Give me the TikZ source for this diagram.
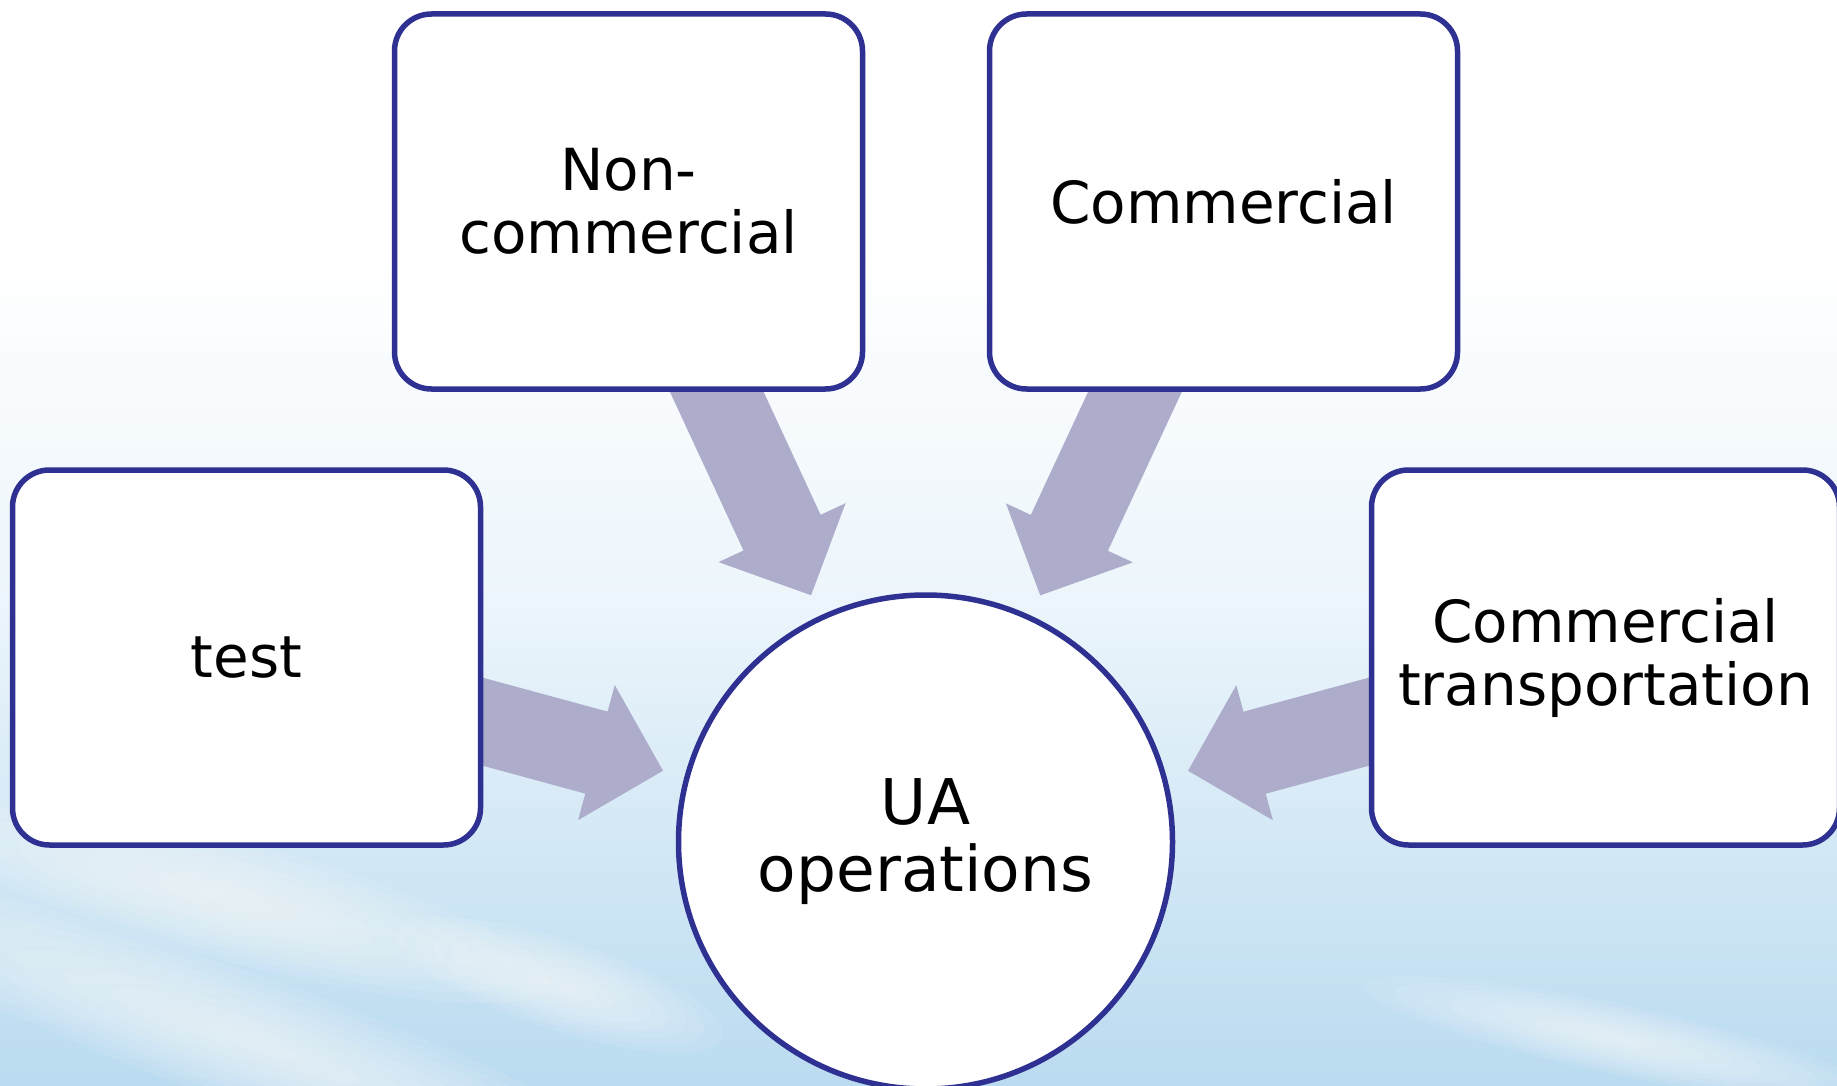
\documentclass[tikz,border=0pt]{standalone}
\usepackage{fontspec}
\setmainfont{DejaVu Sans}
\usetikzlibrary{calc}
\definecolor{navy}{RGB}{46,49,146}
\definecolor{arrowc}{RGB}{173,173,203}
\definecolor{bgA}{RGB}{236,245,251}
\definecolor{bgB}{RGB}{186,219,240}
\pgfdeclarelayer{background}
\pgfsetlayers{background,main}
\tikzset{
  box/.style={draw=navy, line width=5.5pt, fill=white, rounded corners=37pt,
    minimum width=468pt, minimum height=375pt, align=center, inner sep=0pt,
    font=\fontsize{58}{63}\selectfont},
  hub/.style={circle, draw=navy, line width=5.5pt, fill=white, minimum size=494pt,
    align=center, inner sep=0pt, font=\fontsize{63}{67}\selectfont},
  blockarrow/.style={fill=arrowc},
  cloudlayer/.style={white, opacity=0.09}
}
\newcommand{\myarrow}[2]{%
  \path ($(#1.center)!272pt!(#2.center)$) coordinate (tip)
        ($(#1.center)!341pt!(#2.center)$) coordinate (hb);
  \fill[blockarrow] (tip) -- ($(hb)!70pt!90:(#2.center)$)
    -- ($(hb)!42.5pt!90:(#2.center)$) -- ($(#2.center)!42.5pt!-90:(hb)$)
    -- ($(#2.center)!42.5pt!90:(hb)$) -- ($(hb)!42.5pt!-90:(#2.center)$)
    -- ($(hb)!70pt!-90:(#2.center)$) -- cycle;}
% soft cloud streak: centre x, centre y, x radius, y radius, angle
\newcommand{\cloudstreak}[5]{%
  \foreach \k in {1,...,9}{%
    \fill[cloudlayer, rotate around={#5:(#1,#2)}] (#1,#2)
      ellipse [x radius={#3*\k/9}, y radius={#4*\k/9}];}}
\begin{document}
\begin{tikzpicture}[x=1pt,y=-1pt]
\useasboundingbox (0,0) rectangle (1837,1086);
\clip (0,0) rectangle (1837,1086);
% hub and boxes
\node[hub] (c) at (925.5,842) {UA\\operations};
\node[box] (nc) at (628.5,201.5) {Non-\\commercial};
\node[box] (cm) at (1223.5,201.5) {Commercial};
\node[box] (ts) at (246.5,657.5) {test};
\node[box] (ct) at (1605.5,657.5) {Commercial\\transportation};
\begin{pgfonlayer}{background}
% sky
\fill[white] (0,0) rectangle (1837,251);
\shade[top color=white, bottom color=bgA] (0,250) rectangle (1837,601);
\shade[top color=bgA, bottom color=bgB] (0,600) rectangle (1837,1086);
% cloud streaks
\cloudstreak{230}{900}{330}{60}{-15}
\cloudstreak{260}{1045}{470}{65}{-20}
\cloudstreak{560}{985}{170}{45}{-18}
\cloudstreak{1620}{1040}{260}{35}{-12}
% block arrows from boxes into the hub
\myarrow{c}{nc}
\myarrow{c}{cm}
\myarrow{c}{ts}
\myarrow{c}{ct}
\end{pgfonlayer}
\end{tikzpicture}
\end{document}
